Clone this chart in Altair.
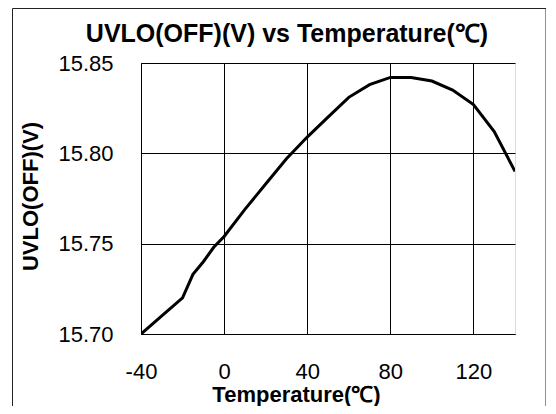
import altair as alt
import pandas as pd

temps = [-40, -30, -20, -15, -10, -5, 0, 10, 20, 30, 40, 50, 60, 70, 80, 90, 100, 110, 120, 130, 140]
uvlo = [15.700, 15.710, 15.720, 15.733, 15.740, 15.748, 15.754, 15.769, 15.783, 15.797, 15.809,
        15.820, 15.831, 15.838, 15.842, 15.842, 15.840, 15.835, 15.827, 15.812, 15.790]
x_ticks = [-40, 0, 40, 80, 120]
y_ticks = [15.70, 15.75, 15.80, 15.85]
chart_title = "UVLO(OFF)(V) vs Temperature(℃)"

df = pd.DataFrame({"T": temps, "V": uvlo})
FONT = "Liberation Sans"

line = alt.Chart(df).mark_line(color="black", strokeWidth=3, clip=True).encode(
    x=alt.X("T:Q", scale=alt.Scale(domain=[-40, 140], nice=False, zero=False),
            axis=alt.Axis(values=x_ticks, labelExpr="'' + datum.value", title="Temperature(℃)",
                          grid=True, gridColor="black",
                          gridWidth=1, gridOpacity=1, ticks=False, domainColor="black",
                          domainWidth=1, labelFont=FONT, labelFontSize=22, labelColor="black",
                          labelPadding=27, labelFlush=False, titleFont=FONT, titleFontSize=22,
                          titleFontWeight="bold", titleColor="black", titleBaseline="alphabetic",
                          titleX=155, titleY=67)),
    y=alt.Y("V:Q", scale=alt.Scale(domain=[15.70, 15.85], nice=False, zero=False),
            axis=alt.Axis(values=y_ticks, format=".2f", title="UVLO(OFF)(V)", grid=True,
                          gridColor="black", gridWidth=1, gridOpacity=1, ticks=False,
                          domainColor="black", domainWidth=1, labelFont=FONT, labelFontSize=22,
                          labelColor="black", labelPadding=28, labelFlush=False, titleFont=FONT,
                          titleFontSize=22, titleFontWeight="bold", titleColor="black",
                          titleAngle=270, titleBaseline="middle", titleX=-111, titleY=133)),
)

frame = alt.Chart(alt.Data(values=[{"a": 1}])).mark_rect(
    fill=None, stroke="#222222", strokeWidth=1, clip=False
).encode(x=alt.value(-128.5), x2=alt.value(405), y=alt.value(-54.5), y2=alt.value(400))

title = alt.Chart(alt.Data(values=[{"t": chart_title}])).mark_text(
    font=FONT, fontSize=25, fontWeight="bold", color="black", align="center",
    baseline="alphabetic", clip=False
).encode(text="t:N", x=alt.value(146), y=alt.value(-21))

chart = alt.layer(frame, line, title).properties(
    width=374, height=271,
    autosize=alt.AutoSizeParams(type="none"),
    padding={"left": 133, "top": 55, "right": 31, "bottom": 72},
).configure_view(stroke="#888888", strokeWidth=1.5).configure(background="white")

chart.save("out.html", embed_options={"renderer": "svg", "actions": False})
